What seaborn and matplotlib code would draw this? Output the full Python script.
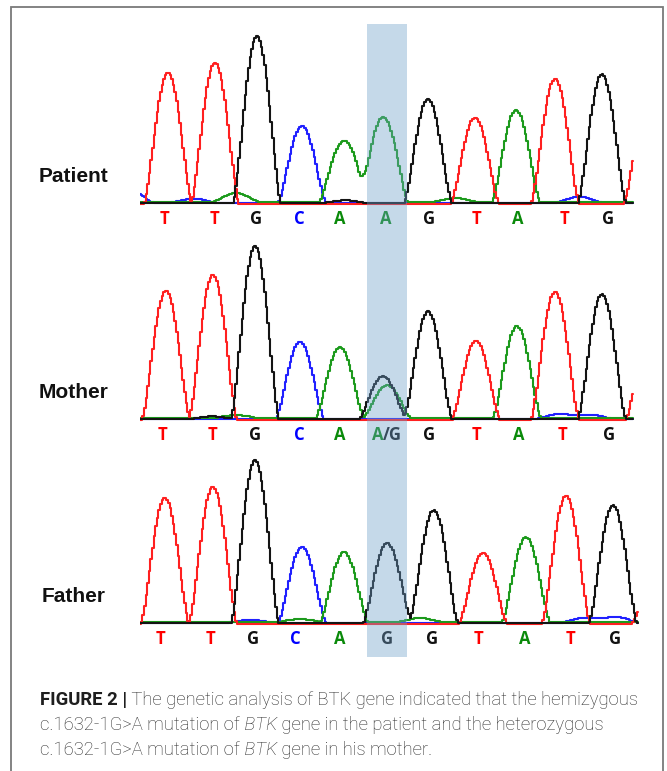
import numpy as np
import pandas as pd
import matplotlib
matplotlib.use('Agg')
import matplotlib.pyplot as plt
from matplotlib.patches import Rectangle
import seaborn as sns

sns.set_style('white')
plt.rcParams['font.family'] = ['Liberation Sans', 'DejaVu Sans']

W, H = 667, 771  # output size in px (dpi 100)

# --- data (scan position ~ px, signal height ~ px) ---
sample_names = ['Patient', 'Mother', 'Father']

# base calls printed under each trace and where they sit
calls_patient = ['T', 'T', 'G', 'C', 'A', 'A', 'G', 'T', 'A', 'T', 'G']
calls_mother = ['T', 'T', 'G', 'C', 'A', 'A/G', 'G', 'T', 'A', 'T', 'G']
calls_father = ['T', 'T', 'G', 'C', 'A', 'G', 'G', 'T', 'A', 'T', 'G']
call_pos_patient = [164, 214, 256, 299, 340, 386, 429, 476, 518, 565, 608]
call_pos_mother = [163, 212, 255, 299, 340, 385, 429, 477, 519, 563, 609]
call_pos_father = [161, 211, 253, 295, 340, 387, 432, 479, 525, 570, 615]

# main peaks: channel, position, height
peak_base_patient = ['C', 'T', 'T', 'G', 'C', 'A', 'A', 'G', 'T', 'A', 'T', 'G', 'T']
peak_pos_patient = [130, 168, 215, 257, 302, 343, 384, 428, 475, 516, 555, 602, 648]
peak_h_patient = [12, 131, 141, 167, 77, 60, 84, 104, 86, 92, 125, 129, 100]

peak_base_mother = ['T', 'T', 'G', 'C', 'A', 'A', 'G', 'G', 'T', 'A', 'T', 'G', 'T']
peak_pos_mother = [166, 213, 255, 300, 340, 387, 383, 428, 476, 517, 555, 602, 650]
peak_h_mother = [129, 145, 173, 77, 71, 33, 43, 108, 79, 92, 128, 125, 85]

peak_base_father = ['T', 'T', 'G', 'C', 'A', 'G', 'G', 'T', 'A', 'T', 'G', 'T']
peak_pos_father = [165, 213, 255, 302, 344, 387, 434, 483, 526, 566, 613, 655]
peak_h_father = [126, 137, 163, 76, 70, 80, 113, 71, 85, 128, 118, 40]

# small background bumps
minor_base_patient = ['C', 'A', 'G', 'A', 'A', 'C']
minor_pos_patient = [193, 236, 345, 363, 455, 579]
minor_h_patient = [4, 9, 3, 9, 4, 6]

minor_base_mother = ['G', 'A', 'C', 'C']
minor_pos_mother = [212, 236, 560, 590]
minor_h_mother = [3, 3, 5, 4]

minor_base_father = ['C', 'A', 'A', 'C', 'C', 'G']
minor_pos_father = [250, 300, 420, 585, 615, 411]
minor_h_father = [3, 3, 4, 5, 6, 4]

trace_start = [140, 140, 140]
trace_end = [633, 633, 638]
baseline_offset = {'A': 1.8, 'C': 1.2, 'G': 0.7, 'T': 0.3}

highlight = (367, 407)  # shaded base column

channel_colors = {'A': '#1c9a1c', 'C': '#2020ff', 'G': '#141414', 'T': '#ff2020'}
label_colors = {'A': '#0a8a0a', 'C': '#0000ff', 'G': '#111111', 'T': '#ff0000'}
channel_order = ['C', 'A', 'T', 'G']

panels = [
    (calls_patient, call_pos_patient, peak_base_patient, peak_pos_patient, peak_h_patient,
     minor_base_patient, minor_pos_patient, minor_h_patient),
    (calls_mother, call_pos_mother, peak_base_mother, peak_pos_mother, peak_h_mother,
     minor_base_mother, minor_pos_mother, minor_h_mother),
    (calls_father, call_pos_father, peak_base_father, peak_pos_father, peak_h_father,
     minor_base_father, minor_pos_father, minor_h_father),
]
baselines_px = [204, 420, 624]
PEAK_W = 24.0
PEAK_P = 1.4


def fig_box(x0, y0, x1, y1):
    return [x0 / W, 1 - y1 / H, (x1 - x0) / W, (y1 - y0) / H]


def channel_signal(x, bases, pos, heights, ch):
    y = np.full_like(x, baseline_offset[ch])
    for b, p, h in zip(bases, pos, heights):
        if b != ch:
            continue
        d = np.abs(x - p)
        shape = np.clip(np.cos(np.pi * np.minimum(d, PEAK_W) / (2 * PEAK_W)), 0, None)
        y += h * shape ** PEAK_P
    return y


fig = plt.figure(figsize=(W / 100, H / 100), dpi=100)

for i, name in enumerate(sample_names):
    calls, call_pos, pb, pp, ph, mb, mp, mh = panels[i]
    b = baselines_px[i]
    ax = fig.add_axes(fig_box(140, b - 180, 645, b + 5))
    x = np.arange(trace_start[i], trace_end[i], 1.6)
    frames = []
    for ch in channel_order:
        y = channel_signal(x, pb + mb, pp + mp, ph + mh, ch)
        frames.append(pd.DataFrame({'scan': x, 'signal': y, 'channel': ch}))
    df = pd.concat(frames, ignore_index=True)
    sns.lineplot(data=df, x='scan', y='signal', hue='channel', hue_order=channel_order,
                 palette=channel_colors, estimator=None, sort=False, legend=False,
                 linewidth=1.5, drawstyle='steps-mid', ax=ax)
    ax.set_xlim(140, 645)
    ax.set_ylim(-5, 180)
    ax.axis('off')

    for c, xc in zip(calls, call_pos):
        kw = dict(fontsize=12, fontweight='bold', va='center', family='Open Sans', clip_on=False)
        if '/' in c:
            ax.text(xc - 2, -15, c[0], ha='right', color=label_colors[c[0]], **kw)
            ax.text(xc - 2, -15, c[1:], ha='left', color=label_colors[c[2]], **kw)
        else:
            ax.text(xc, -15, c, ha='center', color=label_colors[c], **kw)

    fig.text(74 / W, 1 - (b - 27) / H, name, ha='center', va='center',
             fontsize=15, fontweight='bold', color='#111111')

# translucent column over the mutated base, across all three traces
band = fig.add_axes(fig_box(140, 24, 645, 657))
band.set_xlim(140, 645)
band.set_ylim(0, 1)
band.axvspan(*highlight, color='#6ea0ca', alpha=0.4, lw=0)
band.patch.set_alpha(0)
band.axis('off')
band.set_zorder(10)

# outer frame
fig.add_artist(Rectangle((11 / W, -0.02), (663 - 11) / W, 1.02 - 7.5 / H,
                         transform=fig.transFigure, fill=False,
                         edgecolor='#7a7a7a', lw=1.3))

# caption with mixed styles
fig.canvas.draw()
renderer = fig.canvas.get_renderer()
caption_lines = [
    [('FIGURE 2 |', 'bold'), (' The genetic analysis of BTK gene indicated that the hemizygous', 'light')],
    [('c.1632-1G>A mutation of', 'light'), (' BTK', 'italic'), (' gene in the patient and the heterozygous', 'light')],
    [('c.1632-1G>A mutation of', 'light'), (' BTK', 'italic'), (' gene in his mother.', 'light')],
]
caption_baselines = [705, 730, 755]
for runs, yb in zip(caption_lines, caption_baselines):
    xpx = 40
    for txt, style in runs:
        kw = dict(fontsize=13.3, family='Roboto', va='baseline', ha='left')
        if style == 'bold':
            kw.update(fontweight='bold', color='#1e1e1e')
        elif style == 'italic':
            kw.update(fontstyle='italic', fontweight='light', color='#2a2a2a')
        else:
            kw.update(fontweight='light', color='#2a2a2a')
        t = fig.text(xpx / W, 1 - yb / H, txt, **kw)
        xpx += t.get_window_extent(renderer).width

fig.savefig('out.png', dpi=100)
